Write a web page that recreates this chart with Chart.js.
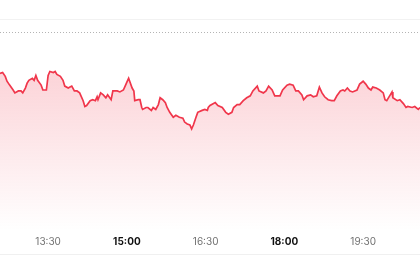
<!DOCTYPE html>
<html>
<head>
<meta charset="utf-8">
<script src="https://cdn.jsdelivr.net/npm/chart.js@4/dist/chart.umd.min.js"></script>
<style>
  html, body { margin: 0; padding: 0; background: #fff; }
  #wrap { position: relative; width: 420px; height: 280px; }
  #rule { position: absolute; left: 0; right: 0; top: 254px; height: 1px; background: #f0f0f0; }
</style>
</head>
<body>
<div id="wrap">
  <canvas id="chart"></canvas>
  <div id="rule"></div>
</div>
<script>
const times = [
  '12:35', '12:38', '12:41', '12:43', '12:46', '12:50', '12:52', '12:56', '12:59', '13:01',
  '13:04', '13:06', '13:08', '13:12', '13:14', '13:16', '13:18', '13:22', '13:24', '13:28',
  '13:30', '13:32', '13:36', '13:38', '13:40', '13:44', '13:47', '13:49', '13:53', '13:55',
  '13:57', '14:00', '14:03', '14:06', '14:10', '14:12', '14:14', '14:18', '14:21', '14:24',
  '14:26', '14:27', '14:30', '14:33', '14:36', '14:38', '14:42', '14:44', '14:49', '14:52',
  '14:56', '14:58', '15:00', '15:02', '15:06', '15:08', '15:09', '15:13', '15:15', '15:17',
  '15:18', '15:22', '15:24', '15:28', '15:30', '15:33', '15:36', '15:38', '15:41', '15:44',
  '15:46', '15:49', '15:53', '15:56', '16:00', '16:04', '16:06', '16:09', '16:12', '16:14',
  '16:16', '16:19', '16:21', '16:26', '16:29', '16:32', '16:33', '16:35', '16:41', '16:44',
  '16:49', '16:53', '16:56', '17:00', '17:02', '17:06', '17:09', '17:13', '17:17', '17:21',
  '17:24', '17:29', '17:31', '17:36', '17:39', '17:42', '17:46', '17:49', '17:55', '17:58',
  '18:03', '18:06', '18:10', '18:13', '18:16', '18:20', '18:22', '18:26', '18:30', '18:33',
  '18:37', '18:40', '18:43', '18:46', '18:50', '18:54', '18:57', '19:00', '19:04', '19:07',
  '19:09', '19:12', '19:15', '19:18', '19:23', '19:26', '19:30', '19:33', '19:36', '19:39',
  '19:41', '19:45', '19:49', '19:53', '19:55', '19:57', '20:01', '20:03', '20:04', '20:09',
  '20:12', '20:16', '20:19', '20:21', '20:26', '20:29', '20:33', '20:35',
];

const prices = [
  97.89, 97.94, 97.74, 97.49, 97.29, 97.04, 96.89, 96.99, 96.99, 96.89,
  97.14, 97.39, 97.54, 97.64, 97.54, 97.79, 97.54, 97.29, 97.04, 97.04,
  97.79, 97.99, 97.94, 97.99, 97.84, 97.74, 97.54, 97.24, 97.14, 97.19,
  97.24, 96.99, 96.99, 96.89, 96.49, 96.19, 96.24, 96.49, 96.54, 96.49,
  96.69, 96.54, 96.89, 96.79, 96.64, 96.79, 96.54, 96.99, 96.99, 96.94,
  97.04, 97.24, 97.44, 97.64, 97.14, 96.99, 96.49, 96.54, 96.54, 96.14,
  96.04, 96.14, 96.14, 95.99, 96.14, 96.04, 96.29, 96.64, 96.54, 96.39,
  96.14, 95.89, 95.64, 95.74, 95.64, 95.59, 95.39, 95.29, 95.24, 95.04,
  95.24, 95.64, 95.89, 95.99, 96.04, 95.99, 96.14, 96.24, 96.39, 96.24,
  96.14, 95.89, 95.79, 95.89, 96.14, 96.29, 96.29, 96.49, 96.64, 96.74,
  96.99, 97.24, 96.99, 96.89, 96.99, 97.24, 97.04, 96.74, 96.74, 97.04,
  97.29, 97.34, 97.29, 96.99, 96.99, 96.79, 96.54, 96.74, 96.79, 96.69,
  96.74, 97.19, 96.89, 96.69, 96.54, 96.49, 96.49, 96.74, 96.99, 97.04,
  96.99, 97.14, 96.99, 96.94, 97.04, 97.34, 97.49, 97.34, 97.14, 97.04,
  97.19, 97.14, 97.04, 96.89, 96.54, 96.49, 96.79, 96.94, 96.64, 96.49,
  96.54, 96.34, 96.14, 96.19, 96.14, 96.19, 96.04, 96.14,
];

const previousClose = 100;
const viewStart = '12:35';
const viewEnd = '20:35';

const toMinutes = (s) => {
  const [h, m] = s.split(':').map(Number);
  return h * 60 + m;
};
const toLabel = (v) => {
  const h = Math.floor(v / 60);
  const m = v % 60;
  return `${h}:${String(m).padStart(2, '0')}`;
};
// 15:00, 18:00 ... get the bold treatment
const isMajor = (ctx) => !!ctx.tick && ctx.tick.value % 180 === 0;

// dotted previous-close line
const referenceLine = {
  id: 'referenceLine',
  beforeDatasetsDraw(chart) {
    const { ctx, chartArea, scales } = chart;
    const y = Math.round(scales.y.getPixelForValue(previousClose)) + 0.5;
    ctx.save();
    ctx.strokeStyle = '#b4b4b4';
    ctx.lineWidth = 1;
    ctx.setLineDash([1, 2]);
    ctx.beginPath();
    ctx.moveTo(chartArea.left, y);
    ctx.lineTo(chartArea.right, y);
    ctx.stroke();
    ctx.restore();
  },
};

const fontFamily = 'Inter, "Liberation Sans", sans-serif';

new Chart(document.getElementById('chart'), {
  type: 'line',
  data: {
    datasets: [
      {
        data: times.map((t, i) => ({ x: toMinutes(t), y: prices[i] })),
        borderColor: '#f0364b',
        borderWidth: 1.7,
        pointRadius: 0,
        tension: 0,
        fill: 'start',
        backgroundColor(context) {
          const { chartArea, ctx } = context.chart;
          if (!chartArea) {
            return 'rgba(240, 54, 75, 0.15)';
          }
          const g = ctx.createLinearGradient(0, 70, 0, chartArea.bottom);
          g.addColorStop(0, 'rgba(240, 54, 75, 0.22)');
          g.addColorStop(1, 'rgba(240, 54, 75, 0)');
          return g;
        },
      },
    ],
  },
  options: {
    responsive: true,
    maintainAspectRatio: false,
    animation: false,
    layout: {
      padding: { top: 19, bottom: 26, left: 0, right: 0 },
    },
    plugins: {
      legend: { display: false },
      tooltip: { enabled: false },
    },
    scales: {
      x: {
        type: 'linear',
        min: toMinutes(viewStart),
        max: toMinutes(viewEnd),
        border: { display: false },
        grid: { display: false, drawTicks: false },
        ticks: {
          stepSize: 90,
          includeBounds: false,
          autoSkip: false,
          maxRotation: 0,
          padding: 6,
          callback: (value) => toLabel(value),
          color: (ctx) => (isMajor(ctx) ? '#111' : '#707070'),
          font: (ctx) => ({
            family: fontFamily,
            size: 10,
            weight: isMajor(ctx) ? 'bold' : 'normal',
          }),
        },
      },
      y: {
        min: 89.84,
        max: 100.69,
        border: { display: false },
        grid: { color: '#f2f2f2', drawTicks: false },
        ticks: { display: false },
        afterBuildTicks(axis) {
          axis.ticks = [{ value: axis.max }];
        },
      },
    },
  },
  plugins: [referenceLine],
});
</script>
</body>
</html>
